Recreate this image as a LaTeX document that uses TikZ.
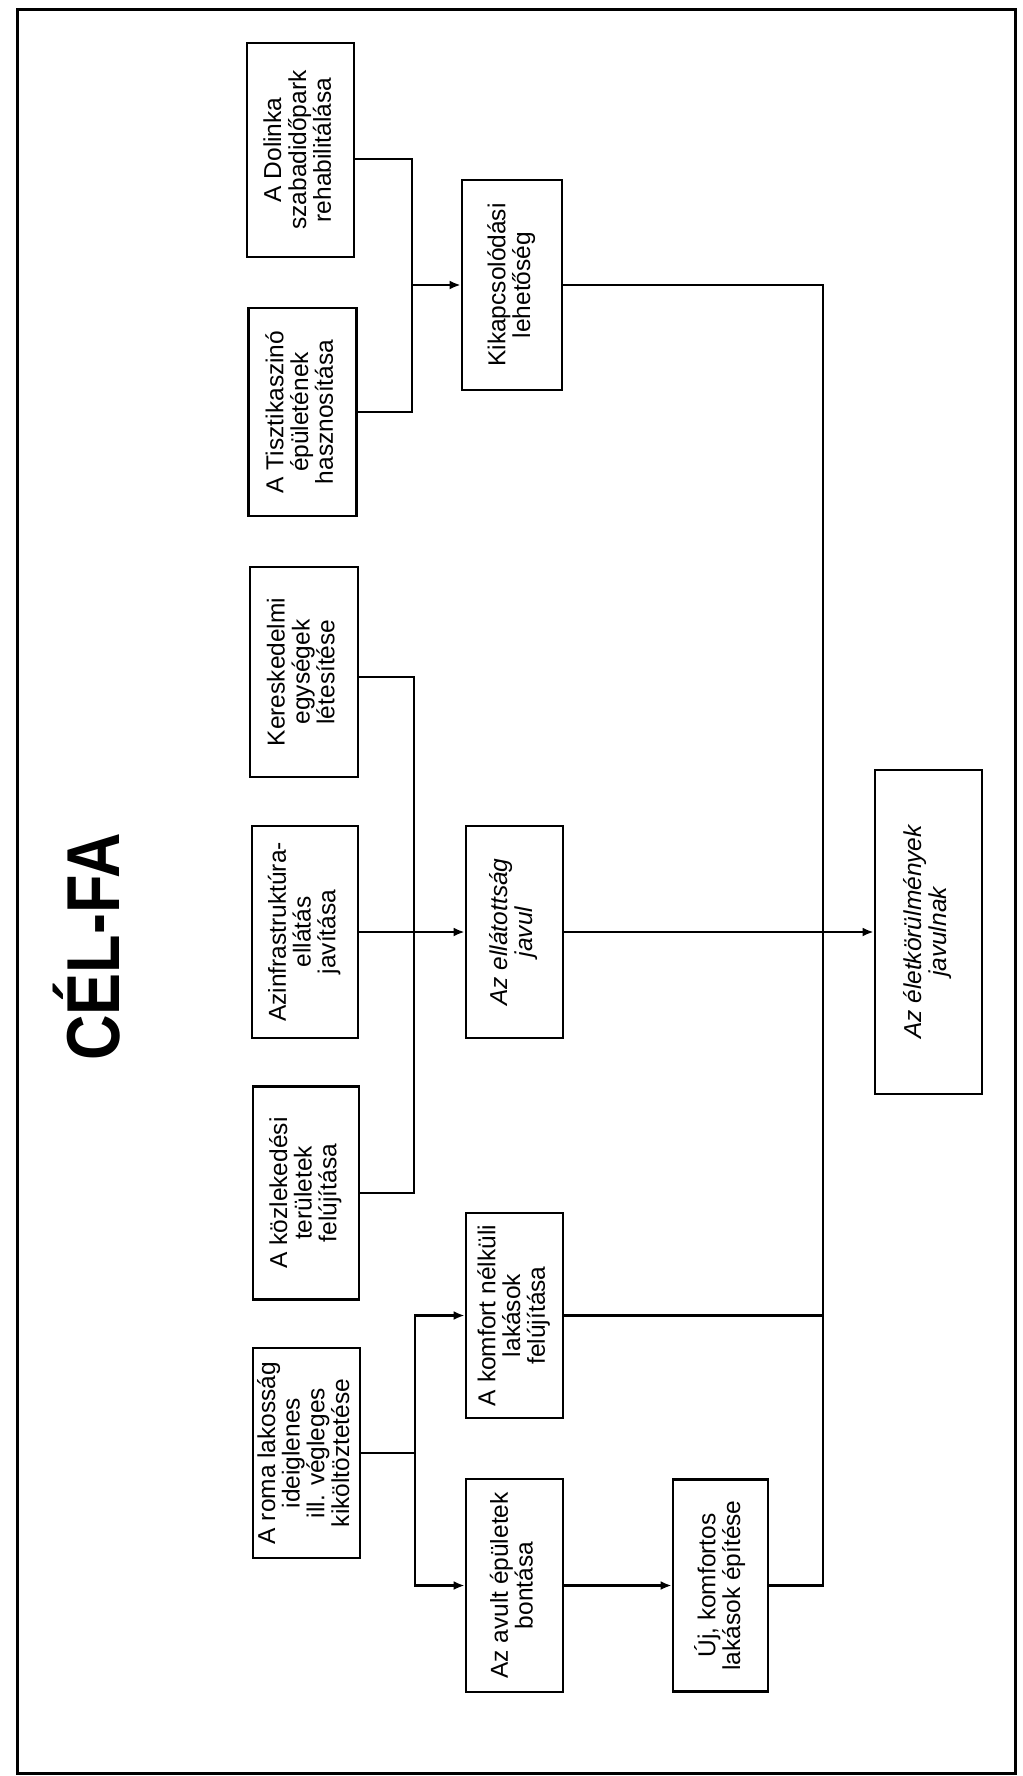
\documentclass[tikz,border=0pt]{standalone}
\usepackage{fontspec}
\setmainfont{Liberation Sans}
\usetikzlibrary{arrows.meta}
\newcommand{\rtext}[1]{\rotatebox{90}{\begin{tabular}{@{}c@{}}#1\end{tabular}}}
\begin{document}
\begin{tikzpicture}[x=1pt,y=-1pt,
  box/.style={draw, line width=2.8pt, inner sep=0pt, font=\fontsize{24.5}{22.5}\selectfont},
  conn/.style={line width=2.3pt},
  arr/.style={conn, -{Latex[length=11pt,width=9pt]}}]
\useasboundingbox (0,0) rectangle (1022,1776);
\fill[white] (0,0) rectangle (1022,1776);
\draw[line width=3pt] (17,10) rectangle (1015,1773);

\node[rotate=90, anchor=base, inner sep=0pt, font=\fontsize{75}{75}\selectfont\bfseries] (title) at (119,947) {\scalebox{0.84}[1]{CÉL-FA}};

% column 1
\node[box, minimum width=107pt, minimum height=214pt] (dol) at (300.5,150) {\rtext{A Dolinka\\szabadidőpark\\rehabilitálása}};
\node[box, minimum width=108pt, minimum height=208pt] (tis) at (302.5,412) {\rtext{A Tisztikaszinó\\épületének\\hasznosítása}};
\node[box, minimum width=108pt, minimum height=210pt] (ker) at (304,672) {\rtext{Kereskedelmi\\egységek\\létesítése}};
\node[box, minimum width=106pt, minimum height=212pt] (inf) at (305,932) {\rtext{Azinfrastruktúra-\\ellátás\\javítása}};
\node[box, minimum width=106pt, minimum height=213pt] (koz) at (306,1193) {\rtext{A közlekedési\\területek\\felújítása}};
\node[box, minimum width=107pt, minimum height=210pt] (rom) at (306.5,1453) {\rtext{A roma lakosság\\ideiglenes\\ill. végleges\\kiköltöztetése}};

% column 2
\node[box, minimum width=100pt, minimum height=210pt] (kik) at (512,285) {\rtext{Kikapcsolódási\\lehetőség}};
\node[box, minimum width=97pt, minimum height=212pt] (ell) at (514.5,932) {\rtext{\itshape Az ellátottság\\\itshape javul}};
\node[box, minimum width=97pt, minimum height=205pt] (kom) at (514.5,1315.5) {\rtext{A komfort nélküli\\lakások\\felújítása}};
\node[box, minimum width=97pt, minimum height=213pt] (avu) at (514.5,1585.5) {\rtext{Az avult épületek\\bontása}};
\node[box, minimum width=95pt, minimum height=212pt] (uj) at (720.5,1585.5) {\rtext{Új, komfortos\\lakások építése}};
\node[box, minimum width=107pt, minimum height=324pt] (fin) at (928.5,932) {\rtext{\itshape Az életkörülmények\\\itshape javulnak}};

% junctions
\coordinate (j1) at (412,285);
\coordinate (j2) at (414,932);
\coordinate (j3) at (415,1453);
\coordinate (tb) at (823,1585.5);

\draw[conn] ([yshift=-9pt]dol.east) -| (j1) |- (tis.east);
\draw[arr] (j1) -- (kik.west);

\draw[conn] ([yshift=-5pt]ker.east) -| (j2) |- (koz.east);
\draw[arr] (inf.east) -- (ell.west);

\draw[conn] (rom.east) -- (j3);
\draw[arr] (j3) |- (kom.west);
\draw[arr] (j3) |- (avu.west);
\draw[arr] (avu.east) -- (uj.west);

\draw[conn] (kik.east) -| (tb) -- (uj.east);
\draw[conn] (kom.east) -- (kom.east -| tb);
\draw[arr] (ell.east) -- (fin.west);
\end{tikzpicture}
\end{document}
